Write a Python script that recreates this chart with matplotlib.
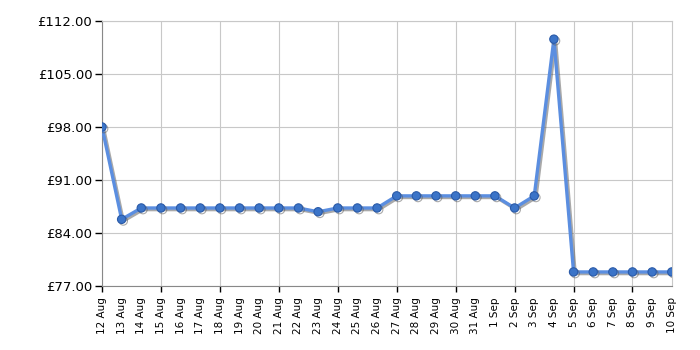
import numpy as np
import matplotlib.pyplot as plt
import matplotlib.patheffects as pe

# Data: daily prices, 12 Aug - 10 Sep
dates = ["12 Aug", "13 Aug", "14 Aug", "15 Aug", "16 Aug", "17 Aug", "18 Aug",
         "19 Aug", "20 Aug", "21 Aug", "22 Aug", "23 Aug", "24 Aug", "25 Aug",
         "26 Aug", "27 Aug", "28 Aug", "29 Aug", "30 Aug", "31 Aug", "1 Sep",
         "2 Sep", "3 Sep", "4 Sep", "5 Sep", "6 Sep", "7 Sep", "8 Sep", "9 Sep",
         "10 Sep"]
prices = [98.0, 85.8, 87.3, 87.3, 87.3, 87.3, 87.3, 87.3, 87.3, 87.3, 87.3,
          86.8, 87.3, 87.3, 87.3, 88.9, 88.9, 88.9, 88.9, 88.9, 88.9, 87.3,
          88.9, 109.6, 78.85, 78.85, 78.85, 78.85, 78.85, 78.85]
yticks = [77, 84, 91, 98, 105, 112]

x = np.arange(len(dates))

fig = plt.figure(figsize=(7, 3.5), dpi=100)
ax = fig.add_axes([0.1457, 0.183, 0.814, 0.757])

ax.plot(x, prices, color="#5b8ee0", lw=2.4, marker="o", markersize=6,
        markerfacecolor="#3b74c8", markeredgecolor="#2a5aa8", markeredgewidth=0.8,
        path_effects=[pe.SimpleLineShadow(offset=(1.2, -1.2), shadow_color="#555555", alpha=0.5),
                      pe.Normal()], zorder=3)

ax.set_xlim(0, len(dates) - 1)
ax.set_ylim(77, 112)

ax.set_yticks(yticks)
ax.set_yticklabels([f"£{v:.2f}" for v in yticks], fontsize=9.5)
ax.tick_params(axis="y", length=5, width=1, color="black", pad=2)

# every day labelled, ticks + grid only every 3 days
ax.xaxis.remove_overlapping_locs = False
ax.set_xticks(x)
ax.set_xticklabels(dates, rotation=90, fontsize=7.5)
ax.tick_params(axis="x", which="major", length=0, pad=8)
ax.set_xticks(x[::3], minor=True)
ax.tick_params(axis="x", which="minor", length=4, width=1, color="black")

ax.grid(axis="y", color="#c8c8c8", lw=0.8)
ax.grid(axis="x", which="minor", color="#c8c8c8", lw=0.8)
ax.set_axisbelow(True)

for s in ["left", "bottom"]:
    ax.spines[s].set_color("#888888")
for s in ["top", "right"]:
    ax.spines[s].set_color("#c8c8c8")

plt.savefig("out.png", dpi=100)
